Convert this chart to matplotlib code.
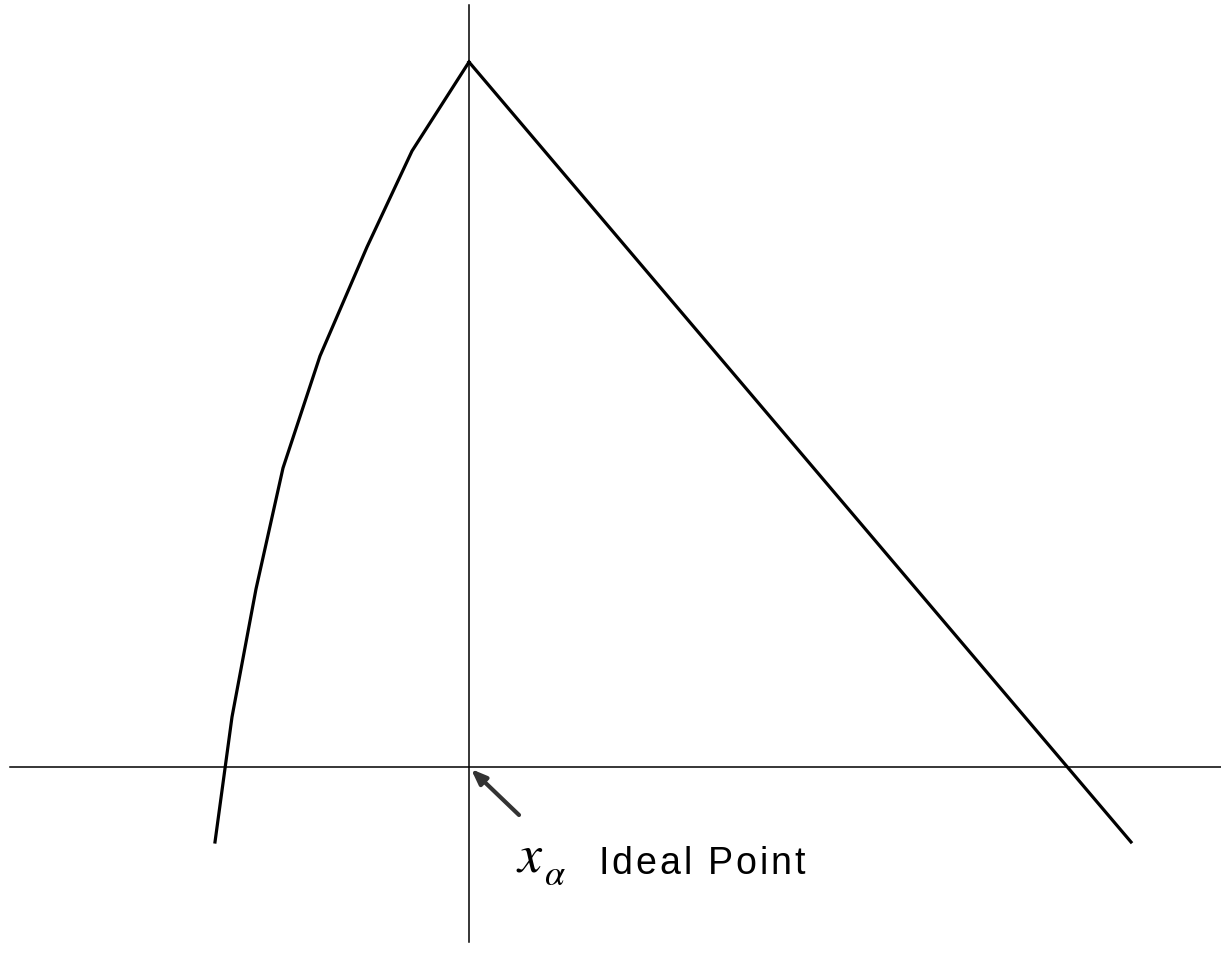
import matplotlib
matplotlib.use("Agg")
import matplotlib.pyplot as plt
from matplotlib.font_manager import FontProperties

# Data (relative to the ideal point at the origin)
left_x = [-254, -237, -213, -186, -149, -102, -57, 0]
left_y = [-75, 50, 178, 299, 411, 520, 616, 705]
right_x = [0, 662]
right_y = [705, -75]
label = "Ideal Point"

W, H = 1221, 971
ox, oy = 469, 767  # origin pixel position

plt.rcParams["mathtext.fontset"] = "stix"
fig = plt.figure(figsize=(W / 100, H / 100), dpi=100)
ax = fig.add_axes([0, 0, 1, 1])
ax.set_xlim(-ox, W - ox)
ax.set_ylim(-(H - oy), oy)
ax.axis("off")

# axes lines
ax.plot([10 - ox, W - ox], [0, 0], color="black", lw=1.1)
ax.plot([0, 0], [oy - 942, oy - 5], color="black", lw=1.1)

ax.plot(left_x, left_y, color="black", lw=2.3, solid_joinstyle="miter")
ax.plot(right_x, right_y, color="black", lw=2.3, solid_joinstyle="miter")

ax.annotate("", xy=(2, -2), xytext=(50, -48),
            arrowprops=dict(arrowstyle="-|>,head_length=0.9,head_width=0.35",
                            color="#333333", lw=3, shrinkA=0, shrinkB=0))

# x with alpha subscript
ax.text(47, -104, r"$x$", fontsize=39, ha="left", va="baseline")
ax.text(75, -118, r"$\alpha$", fontsize=26, ha="left", va="baseline")

# letter-spaced label
prop = FontProperties(family="Liberation Sans", size=27)
renderer = fig.canvas.get_renderer()
xpos = 129.0
spacing = 3.0
for ch in label:
    ax.text(xpos, -107, ch, fontproperties=prop, ha="left", va="baseline")
    w, h, d = renderer.get_text_width_height_descent(ch if ch != " " else "a a", prop, ismath=False)
    if ch == " ":
        wa, _, _ = renderer.get_text_width_height_descent("aa", prop, ismath=False)
        w = w - wa
    xpos += w + spacing

fig.savefig("out.png", dpi=100)
